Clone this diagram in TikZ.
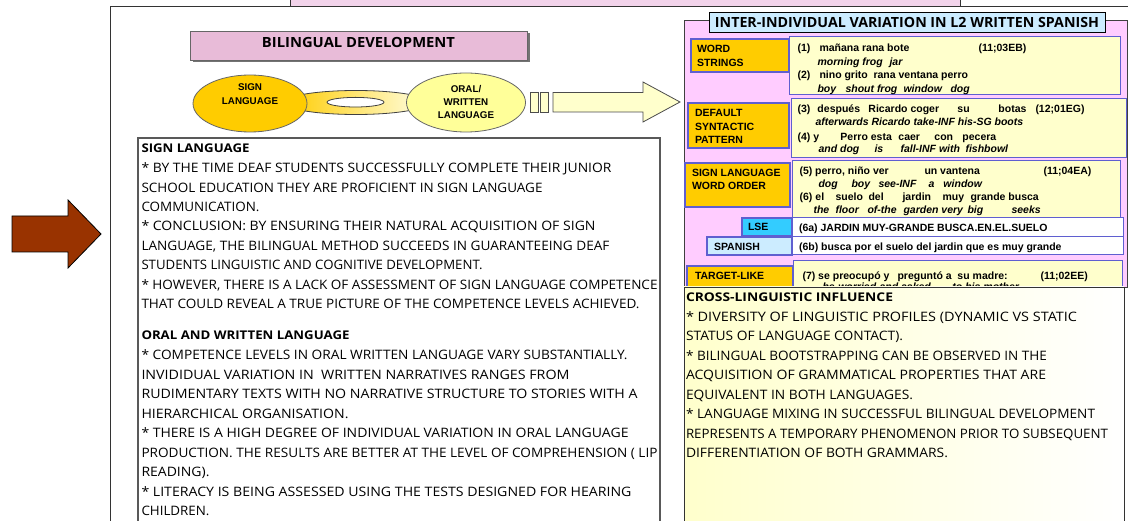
\documentclass[tikz,border=0pt]{standalone}
\usepackage{fontspec}
\usepackage{graphicx}
\setmainfont{Liberation Sans}
\newfontfamily\comic{Open Sans}
\definecolor{gold}{HTML}{FFCC00}
\definecolor{paleyel}{HTML}{FFFFCC}
\definecolor{lightyel}{HTML}{FFFF99}
\definecolor{panelpink}{HTML}{FFCCFF}
\definecolor{toppink}{HTML}{F2D3EA}
\definecolor{titlepink}{HTML}{E8BBD8}
\definecolor{lightblue}{HTML}{CCECFF}
\definecolor{cyanlab}{HTML}{33CCFF}
\definecolor{edgeblue}{HTML}{5F5FD0}
\definecolor{brownarrow}{HTML}{993300}
\newcommand\putat[2]{\rlap{\hspace*{#1pt}#2}}
\newcommand\fitto[2]{\resizebox{#1pt}{\height}{#2}}
\begin{document}
\begin{tikzpicture}[x=1pt,y=-1pt,
  every node/.style={inner sep=0pt, outer sep=0pt},
  lab/.style={draw=edgeblue, line width=1.1pt, fill=gold},
  exbox/.style={draw=edgeblue, line width=1pt, fill=paleyel},
  whitebox/.style={draw=edgeblue, line width=1pt, fill=white},
  ar/.style={font=\fontsize{10.5}{12.6}\selectfont\bfseries, anchor=base west},
  ari/.style={font=\fontsize{10.5}{12.6}\selectfont\bfseries\itshape, anchor=base west},
  lt/.style={font=\fontsize{10.5}{12.6}\selectfont\bfseries, anchor=base west},
  body/.style={font=\comic\fontsize{13}{19.5}\selectfont, anchor=base west},
  head/.style={font=\comic\bfseries\fontsize{12}{19.5}\selectfont, anchor=base west},
  ell/.style={font=\fontsize{9.8}{13.4}\selectfont\bfseries, align=center},
  frame/.style={draw=black!80, line width=0.8pt},
]
\fill[white] (0,0) rectangle (1128,521);
\useasboundingbox (0,0) rectangle (1128,521);
\clip (0,0) rectangle (1128,521);

% outer frame and top box
\draw[frame, fill=white] (110,6) rectangle (1150,560);
\draw[frame, fill=toppink] (290,-10) rectangle (960,6);

% bilingual development title
\fill[black!55] (192.5,33.5) rectangle (529.5,62.5);
\draw[draw=black!60, line width=0.8pt, fill=titlepink] (190,31) rectangle (527,60);
\node[font=\comic\bfseries\fontsize{14}{16}\selectfont] (bdtitle) at (358.5,42.5) {\fitto{193}{BILINGUAL DEVELOPMENT}};

% ring linking the two languages
\path[even odd rule, left color=gold, right color=paleyel!50!white, draw=black!75, line width=0.8pt]
  (356,102.5) ellipse [x radius=72, y radius=12] (355.5,102.2) ellipse [x radius=28.5, y radius=4.8];

% ellipses
\draw[draw=black!60, line width=0.8pt, fill=gold] (250,103.5) ellipse [x radius=57, y radius=28.5];
\node[ell] (sign) at (250,94) {SIGN\\LANGUAGE};
\draw[draw=black!60, line width=0.8pt, fill=lightyel] (466,102.5) ellipse [x radius=59.5, y radius=29.5];
\node[ell] (oral) at (466,102) {ORAL/\\WRITTEN\\LANGUAGE};

% big light arrow with bars
\draw[draw=black!70, line width=0.8pt, fill=paleyel] (530.5,92.5) rectangle (538.5,112);
\draw[draw=black!70, line width=0.8pt, fill=paleyel] (540.5,92.5) rectangle (548.5,112);
\draw[draw=black!70, line width=0.8pt, fill=paleyel]
  (553,92.5) -- (643,92.5) -- (643,82) -- (680,102) -- (643,122) -- (643,112) -- (553,112) -- cycle;

% left text box
\draw[draw=black!65, line width=1.2pt, fill=white] (138,138) rectangle (660,560);
\node[head] (sh) at (141.5,152.6) {\fitto{108}{SIGN LANGUAGE}};
\foreach \w/\t [count=\i] in {%
  470/{* BY THE TIME DEAF STUDENTS SUCCESSFULLY COMPLETE THEIR JUNIOR},
  401/{SCHOOL EDUCATION THEY ARE PROFICIENT IN SIGN LANGUAGE},
  118/{COMMUNICATION.},
  454/{* CONCLUSION: BY ENSURING THEIR NATURAL ACQUISITION OF SIGN},
  468/{LANGUAGE, THE BILINGUAL METHOD SUCCEEDS IN GUARANTEEING DEAF},
  341/{STUDENTS LINGUISTIC AND COGNITIVE DEVELOPMENT.},
  516/{* HOWEVER, THERE IS A LACK OF ASSESSMENT OF SIGN LANGUAGE COMPETENCE},
  498/{THAT COULD REVEAL A TRUE PICTURE OF THE COMPETENCE LEVELS ACHIEVED.}}
  \node[body] (s\i) at (141.5,{172.6+19.45*(\i-1)}) {\fitto{\w}{\t}};
\node[head] (oh) at (141.5,339.4) {\fitto{208}{ORAL AND WRITTEN LANGUAGE}};
\foreach \w/\t [count=\i] in {%
  486/{* COMPETENCE LEVELS IN ORAL WRITTEN LANGUAGE VARY SUBSTANTIALLY.},
  428/{INVIDIDUAL VARIATION IN \ WRITTEN NARRATIVES RANGES FROM},
  496/{RUDIMENTARY TEXTS WITH NO NARRATIVE STRUCTURE TO STORIES WITH A},
  207/{HIERARCHICAL ORGANISATION.},
  487/{* THERE IS A HIGH DEGREE OF INDIVIDUAL VARIATION IN ORAL LANGUAGE},
  516/{PRODUCTION. THE RESULTS ARE BETTER AT THE LEVEL OF COMPREHENSION ( LIP},
  68/{READING).},
  490/{* LITERACY IS BEING ASSESSED USING THE TESTS DESIGNED FOR HEARING},
  68/{CHILDREN.}}
  \node[body] (o\i) at (141.5,{359.6+19.5*(\i-1)}) {\fitto{\w}{\t}};

% brown arrow
\draw[draw=black, line width=0.8pt, fill=brownarrow]
  (12,216) -- (68,216) -- (68,200) -- (101,234) -- (68,268) -- (68,252) -- (12,252) -- cycle;

% right panel
\draw[draw=black!75, line width=0.8pt, fill=panelpink] (684,20) rectangle (1127,287);
\draw[draw=black, line width=0.8pt, fill=lightblue] (709,12) rectangle (1105,32);
\node[font=\comic\bfseries\fontsize{14}{16}\selectfont] (ptitle) at (907,22) {\fitto{384}{INTER-INDIVIDUAL VARIATION IN L2 WRITTEN SPANISH}};

% row 1
\draw[exbox] (789,37) rectangle (1120,95);
\draw[lab] (691,39) rectangle (789,72);
\node[lt] (l1) at (697,53) {WORD};
\node[lt] (l2) at (697,66.5) {STRINGS};
\node[ar] (e1) at (797,51.5) {\putat{0}{(1)}\putat{22}{mañana rana bote}\putat{181}{(11;03EB)}};
\node[ari] (e2) at (797,65.5) {\putat{20}{morning frog}\putat{92}{jar}};
\node[ar] (e3) at (797,78.5) {\putat{0}{(2)}\putat{22}{nino grito}\putat{76}{rana ventana perro}};
\node[ari] (e4) at (797,92.5) {\putat{20}{boy}\putat{48}{shout frog}\putat{106}{window}\putat{153}{dog}};

% row 2
\draw[exbox] (791,99) rectangle (1126,158);
\draw[lab] (688,103) rectangle (789,148);
\node[lt] (l3) at (695,117) {DEFAULT};
\node[lt] (l4) at (695,130.5) {SYNTACTIC};
\node[lt] (l5) at (695,144) {PATTERN};
\node[ar] (e5) at (797,113) {\putat{0}{(3)}\putat{20}{después}\putat{71}{Ricardo coger}\putat{160}{su}\putat{201}{botas}\putat{238}{(12;01EG)}};
\node[ari] (e6) at (797,126) {\putat{18}{afterwards Ricardo take-INF his-SG boots}};
\node[ar] (e7) at (797,140.5) {\putat{0}{(4)}\putat{16}{y}\putat{43}{Perro esta}\putat{101}{caer}\putat{137}{con}\putat{165}{pecera}};
\node[ari] (e8) at (797,153) {\putat{21}{and dog}\putat{77}{is}\putat{103}{fall-INF with}\putat{168}{fishbowl}};

% row 3
\draw[exbox] (792,161) rectangle (1120,218);
\draw[lab] (685,163) rectangle (790,207);
\node[lt] (l6) at (692,176.5) {SIGN LANGUAGE};
\node[lt] (l7) at (692,190) {WORD ORDER};
\node[ar] (e9) at (799,175) {\putat{0}{(5) perro, niño ver}\putat{125}{un vantena}\putat{244}{(11;04EA)}};
\node[ari] (e10) at (799,187.5) {\putat{19}{dog}\putat{52}{boy}\putat{79}{see-INF}\putat{129}{a}\putat{144}{window}};
\node[ar] (e11) at (799,201) {\putat{0}{(6)}\putat{16}{el}\putat{36}{suelo}\putat{69}{del}\putat{103}{jardin}\putat{143}{muy}\putat{171}{grande busca}};
\node[ari] (e12) at (799,214) {\putat{14}{the}\putat{36}{floor}\putat{68}{of-the}\putat{104}{garden very}\putat{168}{big}\putat{212}{seeks}};

% LSE / Spanish rows
\draw[whitebox] (792,218) rectangle (1123,237);
\draw[lab, fill=cyanlab] (742,218) rectangle (792,236);
\node[lt] (l8) at (748,231) {LSE};
\node[ar] (e13) at (799,232) {(6a) JARDIN MUY-GRANDE BUSCA.EN.EL.SUELO};
\draw[whitebox] (792,237) rectangle (1123,255);
\draw[lab, fill=lightblue] (707,237) rectangle (792,255);
\node[lt] (l9) at (714,251) {SPANISH};
\node[ar] (e14) at (799,251) {(6b) busca por el suelo del jardin que es muy grande};

% row 4
\draw[exbox] (793,261) rectangle (1122,310);
\draw[lab] (687,266) rectangle (793,310);
\node[lt] (l10) at (695,280) {TARGET-LIKE};
\node[ar] (e15) at (802,280) {\putat{0}{(7) se preocupó y}\putat{95}{preguntó a}\putat{155}{su madre:}\putat{238}{(11;02EE)}};
\node[ari] (e16) at (802,291) {\putat{20}{he-worried}\putat{77}{and asked}\putat{150}{to his mother}};

% cross-linguistic box
\path[draw=black!80, line width=0.8pt, left color=paleyel, right color=white] (684,287) rectangle (1124,560);
\node[head] (ch) at (686,301.4) {\fitto{207}{CROSS-LINGUISTIC INFLUENCE}};
\foreach \w/\t [count=\i] in {%
  391/{* DIVERSITY OF LINGUISTIC PROFILES (DYNAMIC VS STATIC},
  217/{STATUS OF LANGUAGE CONTACT).},
  361/{* BILINGUAL BOOTSTRAPPING CAN BE OBSERVED IN THE},
  360/{ACQUISITION OF GRAMMATICAL PROPERTIES THAT ARE},
  227/{EQUIVALENT IN BOTH LANGUAGES.},
  409/{* LANGUAGE MIXING IN SUCCESSFUL BILINGUAL DEVELOPMENT},
  422/{REPRESENTS A TEMPORARY PHENOMENON PRIOR TO SUBSEQUENT},
  262/{DIFFERENTIATION OF BOTH GRAMMARS.}}
  \node[body] (c\i) at (686,{321.3+19.5*(\i-1)}) {\fitto{\w}{\t}};
\end{tikzpicture}
\end{document}
